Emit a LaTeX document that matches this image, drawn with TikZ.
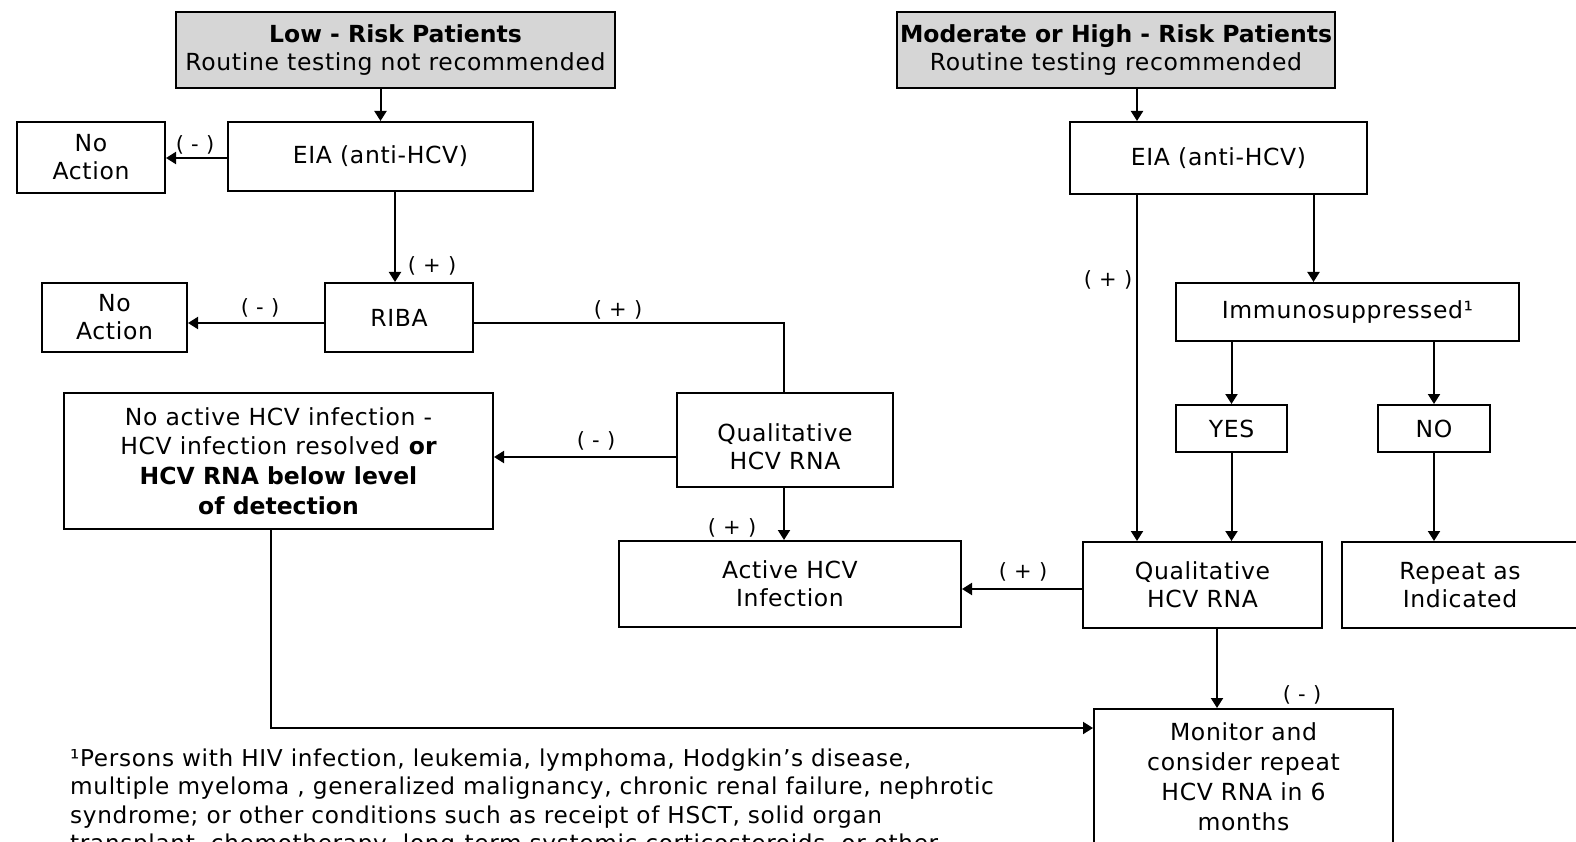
\documentclass[tikz,border=0pt]{standalone}
\usepackage{fontspec}
\setmainfont{DejaVu Sans}[LetterSpace=2.8, BoldFeatures={LetterSpace=0}]
\usetikzlibrary{arrows.meta}
\definecolor{hdrgray}{RGB}{214,214,214}

\begin{document}
\begin{tikzpicture}[x=1pt,y=-1pt,
  box/.style={draw, line width=2pt, inner sep=0pt, align=center,
              font=\fontsize{23.5}{28}\selectfont},
  hdr/.style={box, fill=hdrgray},
  txt/.style={inner sep=0pt, align=center, font=\fontsize{23.5}{28}\selectfont},
  ln/.style={line width=2pt},
  arr/.style={ln, -{Triangle[length=10pt,width=12pt]}},
  lbl/.style={font=\fontsize{21}{21}\selectfont, inner sep=0pt},
  fnline/.style={font=\fontsize{23.2}{28}\selectfont, anchor=base west, inner sep=0pt}]

\useasboundingbox (0,0) rectangle (1576,842);
\clip (0,0) rectangle (1576,842);

% column and row guides for the connectors
\coordinate (cL2) at (395,0);
\coordinate (cQ)  at (784,0);
\coordinate (cR1) at (1137,0);
\coordinate (cR2) at (1313.5,0);
\coordinate (cM)  at (1217,0);
\coordinate (cN)  at (271,0);
\coordinate (rA)  at (0,158);
\coordinate (rB)  at (0,323);
\coordinate (rC)  at (0,457);
\coordinate (rD)  at (0,589);
\coordinate (rE)  at (0,728);

% header boxes
\node[hdr, minimum width=439pt, minimum height=76pt] (low) at (395.5,50)
  {\textbf{Low - Risk Patients}\\Routine testing not recommended};
\node[hdr, minimum width=438pt, minimum height=76pt] (mod) at (1116,50)
  {\textbf{Moderate or High - Risk Patients}\\Routine testing recommended};

% low-risk branch
\node[box, minimum width=305pt, minimum height=69pt] (eiaL) at (380.5,156.5) {EIA (anti-HCV)};
\node[box, minimum width=148pt, minimum height=71pt] (noact1) at (91,157.5) {No\\Action};
\node[box, minimum width=148pt, minimum height=69pt] (riba) at (399,317.5) {RIBA};
\node[box, minimum width=145pt, minimum height=69pt] (noact2) at (114.5,317.5) {No\\Action};
\node[box, minimum width=429pt, minimum height=136pt,
      font=\fontsize{23.5}{29.7}\selectfont] (noactive) at (278.5,461)
  {No active HCV infection -\\HCV infection resolved \textbf{or}\\
   \textbf{HCV RNA below level}\\\textbf{of detection}};
\node[box, minimum width=216pt, minimum height=94pt] (qualL) at (785,440) {};
\node[txt] (qualLtext) at (785,447) {Qualitative\\HCV RNA};
\node[box, minimum width=342pt, minimum height=86pt] (active) at (790,584) {Active HCV\\Infection};

% moderate/high-risk branch
\node[box, minimum width=297pt, minimum height=72pt] (eiaR) at (1218.5,158) {EIA (anti-HCV)};
\node[box, minimum width=343pt, minimum height=58pt] (immuno) at (1347.5,312) {Immunosuppressed¹};
\node[box, minimum width=111pt, minimum height=47pt] (yes) at (1231.5,428.5) {YES};
\node[box, minimum width=112pt, minimum height=47pt] (no) at (1434,428.5) {NO};
\node[box, minimum width=239pt, minimum height=86pt] (qualR) at (1202.5,585) {Qualitative\\HCV RNA};
\node[box, minimum width=236pt, minimum height=86pt] (rep) at (1460,585) {Repeat as\\Indicated};
\node[box, minimum width=299pt, minimum height=136pt,
      font=\fontsize{23.5}{30}\selectfont] (monitor) at (1243.5,777)
  {Monitor and\\consider repeat\\HCV RNA in 6\\months};

% connectors
\draw[arr] (low.south -| eiaL) -- (eiaL.north);
\draw[arr] (eiaL.west |- rA) -- (noact1.east |- rA);
\draw[arr] (eiaL.south -| cL2) -- (riba.north -| cL2);
\draw[arr] (riba.west |- rB) -- (noact2.east |- rB);
\draw[ln]  (riba.east |- rB) -| (qualL.north -| cQ);
\draw[arr] (qualL.west |- rC) -- (noactive.east |- rC);
\draw[arr] (qualL.south -| cQ) -- (active.north -| cQ);

\draw[arr] (mod.south -| cR1) -- (eiaR.north -| cR1);
\draw[arr] (eiaR.south -| cR1) -- (qualR.north -| cR1);
\draw[arr] (eiaR.south -| cR2) -- (immuno.north -| cR2);
\draw[arr] (immuno.south -| yes) -- (yes.north);
\draw[arr] (immuno.south -| no) -- (no.north);
\draw[arr] (yes.south) -- (qualR.north -| yes);
\draw[arr] (no.south) -- (rep.north -| no);
\draw[arr] (qualR.west |- rD) -- (active.east |- rD);
\draw[arr] (qualR.south -| cM) -- (monitor.north -| cM);
\draw[arr] (noactive.south -| cN) |- (monitor.west |- rE);

% result labels
\node[lbl] (m1) at (195,145) {( - )};
\node[lbl] (p1) at (432,266) {( + )};
\node[lbl] (m2) at (260,308) {( - )};
\node[lbl] (p2) at (618,310) {( + )};
\node[lbl] (m3) at (596,441) {( - )};
\node[lbl] (p3) at (732,528) {( + )};
\node[lbl] (p4) at (1108,280) {( + )};
\node[lbl] (p5) at (1023,572) {( + )};
\node[lbl] (m4) at (1302,695) {( - )};

% footnote
\node[fnline] (fn1) at (70,766)   {¹Persons with HIV infection, leukemia, lymphoma, Hodgkin’s disease,};
\node[fnline] (fn2) at (70,794.5) {multiple myeloma , generalized malignancy, chronic renal failure, nephrotic};
\node[fnline] (fn3) at (70,823)   {syndrome; or other conditions such as receipt of HSCT, solid organ};
\node[fnline] (fn4) at (70,851.5) {transplant, chemotherapy, long-term systemic corticosteroids, or other};
\end{tikzpicture}
\end{document}
